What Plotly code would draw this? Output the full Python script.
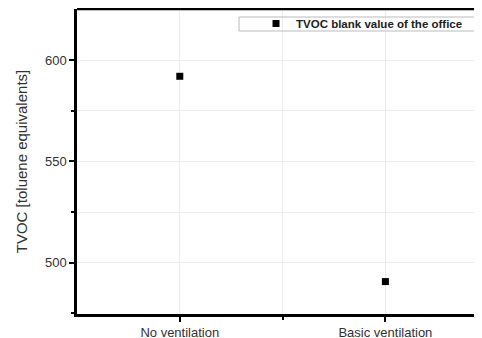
import plotly.graph_objects as go

categories = ["No ventilation", "Basic ventilation"]
tvoc_values = [592, 490.7]
series_name = "TVOC blank value of the office"
y_tick_values = [500, 550, 600]

fig = go.Figure()
fig.add_trace(go.Scatter(
    x=[1, 2], y=tvoc_values, mode="markers", name=series_name,
    marker=dict(symbol="square", size=7, color="black"),
))

# the page body adds an 8px offset, so the figure is 8px smaller than the window
fig.update_layout(
    width=474, height=330,
    margin=dict(l=69, r=0, t=1, b=24, autoexpand=False),
    paper_bgcolor="white", plot_bgcolor="white",
    font=dict(family="Liberation Sans, Arial", size=13, color="#333"),
    showlegend=True,
    legend=dict(
        x=0.442, y=1.0, xanchor="left", yanchor="top",
        bgcolor="rgba(0,0,0,0)", borderwidth=0,
        font=dict(family="Liberation Sans, Arial", size=11.5, color="#222", weight="bold"),
        itemsizing="trace", tracegroupgap=0, itemwidth=30,
    ),
    shapes=[
        dict(type="rect", xref="paper", yref="paper",
             x0=0.4, x1=0.998, y0=1 - (31 - 9) / 305, y1=1 - (17 - 9) / 305,
             line=dict(color="#bbb", width=1), fillcolor="rgba(0,0,0,0)"),
        dict(type="line", xref="paper", yref="paper", x0=0, x1=1, y0=1, y1=1,
             line=dict(color="black", width=2.5)),
    ],
)

fig.update_xaxes(
    automargin=False,
    range=[0.5, 2.47],
    tickvals=[1, 2], ticktext=categories,
    showline=True, linecolor="black", linewidth=2.5,
    ticks="outside", ticklen=5, tickwidth=2, tickcolor="black",
    showgrid=True, gridcolor="#ececec", gridwidth=1,
    minor=dict(tickvals=[1.5], ticks="outside", ticklen=3, tickwidth=2, tickcolor="black",
               showgrid=True, gridcolor="#ececec"),
    zeroline=False,
    tickfont=dict(size=13, color="#333"),
)
fig.update_yaxes(
    automargin=False,
    range=[474.7, 625.2],
    tickvals=y_tick_values,
    showline=True, linecolor="black", linewidth=2.5,
    ticks="outside", ticklen=5, tickwidth=2, tickcolor="black",
    showgrid=True, gridcolor="#ececec", gridwidth=1,
    minor=dict(tickvals=[475, 525, 575], ticks="outside", ticklen=3, tickwidth=2, tickcolor="black",
               showgrid=True, gridcolor="#ececec"),
    zeroline=False,
    title=dict(text="TVOC [toluene equivalents]", font=dict(size=15, color="#333"), standoff=14),
    tickfont=dict(size=13, color="#333"),
)

fig.write_html("out.html")
